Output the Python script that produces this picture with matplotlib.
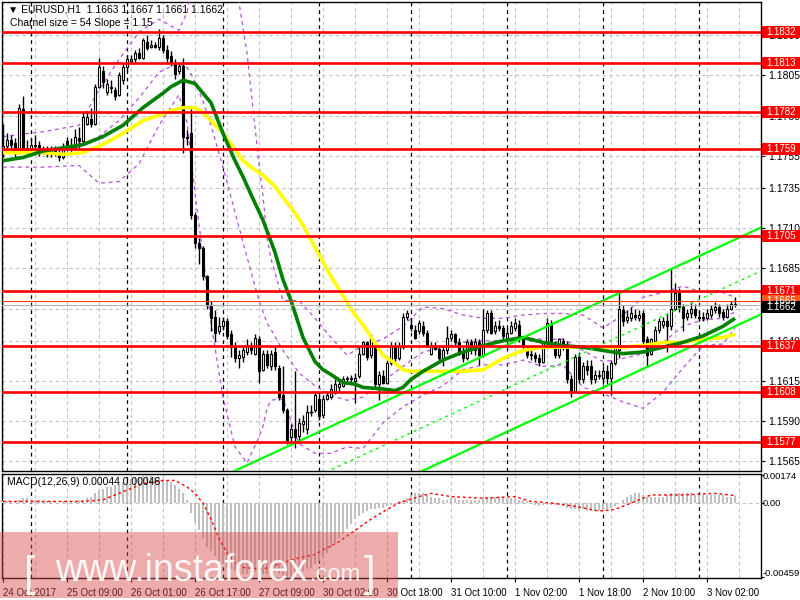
import matplotlib
matplotlib.use("Agg")
import matplotlib.pyplot as plt
from matplotlib.patches import Rectangle
from matplotlib.transforms import blended_transform_factory

# EURUSD H1, 24 Oct 17:00 .. 3 Nov 09:00 (bar index = position on chart)
opens = [1.1757,1.1761,1.1765,1.1763,1.1757,1.1784,1.1759,1.1759,1.1762,1.1762,
         1.1757,1.1759,1.1756,1.1759,1.1757,1.1754,1.1764,1.1760,1.1760,1.1766,
         1.1764,1.1775,1.1778,1.1775,1.1798,1.1808,1.1795,1.1798,1.1796,1.1793,
         1.1802,1.1810,1.1814,1.1815,1.1819,1.1816,1.1826,1.1823,1.1824,1.1823,
         1.1828,1.1821,1.1817,1.1812,1.1808,1.1811,1.1767,1.1769,1.1718,1.1701,
         1.1698,1.1680,1.1662,1.1655,1.1646,1.1649,1.1652,1.1644,1.1636,1.1629,
         1.1630,1.1633,1.1637,1.1632,1.1641,1.1622,1.1632,1.1624,1.1633,1.1623,
         1.1606,1.1597,1.1580,1.1585,1.1581,1.1588,1.1585,1.1596,1.1597,1.1604,
         1.1594,1.1604,1.1605,1.1609,1.1611,1.1612,1.1616,1.1616,1.1615,1.1618,
         1.1632,1.1639,1.1631,1.1638,1.1613,1.1618,1.1614,1.1626,1.1637,1.1629,
         1.1636,1.1655,1.1650,1.1647,1.1646,1.1649,1.1645,1.1632,1.1636,1.1635,
         1.1629,1.1634,1.1642,1.1644,1.1639,1.1633,1.1629,1.1639,1.1634,1.1639,
         1.1631,1.1647,1.1657,1.1646,1.1649,1.1648,1.1642,1.1645,1.1648,1.1650,
         1.1641,1.1636,1.1631,1.1631,1.1629,1.1627,1.1639,1.1650,1.1639,1.1631,
         1.1640,1.1637,1.1616,1.1609,1.1630,1.1616,1.1624,1.1624,1.1616,1.1619,
         1.1617,1.1621,1.1617,1.1626,1.1634,1.1659,1.1653,1.1654,1.1656,1.1654,
         1.1657,1.1641,1.1632,1.1640,1.1647,1.1650,1.1652,1.1649,1.1660,1.1670,
         1.1661,1.1655,1.1657,1.1660,1.1655,1.1655,1.1654,1.1656,1.1659,1.1661,
         1.1658,1.1655,1.1660,1.1663]
highs = [1.1775,1.1769,1.1768,1.1766,1.1787,1.1792,1.1765,1.1766,1.1768,1.1764,
         1.1761,1.1761,1.1761,1.1761,1.1759,1.1763,1.1767,1.1766,1.1772,1.1773,
         1.1782,1.1782,1.1785,1.1800,1.1816,1.1811,1.1803,1.1802,1.1798,1.1807,
         1.1812,1.1818,1.1818,1.1821,1.1822,1.1828,1.1830,1.1827,1.1826,1.1834,
         1.1830,1.1824,1.1820,1.1815,1.1813,1.1816,1.1771,1.1785,1.1720,1.1704,
         1.1699,1.1681,1.1665,1.1659,1.1655,1.1655,1.1654,1.1647,1.1639,1.1634,
         1.1637,1.1641,1.1639,1.1644,1.1643,1.1634,1.1634,1.1634,1.1637,1.1625,
         1.1624,1.1598,1.1588,1.1621,1.1592,1.1594,1.1600,1.1600,1.1608,1.1606,
         1.1606,1.1609,1.1613,1.1616,1.1616,1.1618,1.1618,1.1619,1.1620,1.1636,
         1.1640,1.1640,1.1644,1.1640,1.1621,1.1622,1.1628,1.1639,1.1639,1.1639,
         1.1657,1.1659,1.1654,1.1650,1.1653,1.1652,1.1647,1.1639,1.1639,1.1637,
         1.1637,1.1649,1.1647,1.1645,1.1642,1.1636,1.1641,1.1641,1.1642,1.1641,
         1.1660,1.1659,1.1659,1.1652,1.1653,1.1650,1.1648,1.1652,1.1654,1.1653,
         1.1642,1.1637,1.1634,1.1633,1.1632,1.1640,1.1654,1.1653,1.1640,1.1642,
         1.1642,1.1640,1.1619,1.1632,1.1633,1.1627,1.1628,1.1628,1.1622,1.1622,
         1.1624,1.1625,1.1628,1.1637,1.1670,1.1662,1.1659,1.1661,1.1660,1.1659,
         1.1659,1.1643,1.1642,1.1649,1.1654,1.1655,1.1657,1.1685,1.1676,1.1673,
         1.1663,1.1660,1.1664,1.1663,1.1659,1.1658,1.1660,1.1662,1.1664,1.1663,
         1.1660,1.1663,1.1665,1.1667]
lows = [1.1754,1.1759,1.1760,1.1754,1.1756,1.1757,1.1757,1.1757,1.1757,1.1755,
        1.1756,1.1754,1.1754,1.1755,1.1752,1.1753,1.1758,1.1757,1.1759,1.1760,
        1.1763,1.1774,1.1773,1.1774,1.1797,1.1797,1.1793,1.1794,1.1790,1.1792,
        1.1800,1.1808,1.1813,1.1813,1.1815,1.1815,1.1821,1.1822,1.1822,1.1821,
        1.1819,1.1813,1.1811,1.1803,1.1806,1.1757,1.1762,1.1716,1.1698,1.1688,
        1.1678,1.1660,1.1646,1.1639,1.1644,1.1647,1.1641,1.1630,1.1627,1.1623,
        1.1627,1.1631,1.1632,1.1631,1.1614,1.1621,1.1623,1.1622,1.1622,1.1603,
        1.1595,1.1576,1.1577,1.1573,1.1578,1.1583,1.1582,1.1593,1.1596,1.1591,
        1.1592,1.1603,1.1604,1.1607,1.1608,1.1611,1.1613,1.1614,1.1601,1.1617,
        1.1631,1.1628,1.1629,1.1611,1.1603,1.1613,1.1613,1.1625,1.1627,1.1628,
        1.1635,1.1653,1.1646,1.1641,1.1644,1.1643,1.1636,1.1631,1.1634,1.1627,
        1.1624,1.1632,1.1640,1.1637,1.1631,1.1627,1.1628,1.1632,1.1631,1.1625,
        1.1630,1.1645,1.1644,1.1644,1.1646,1.1641,1.1640,1.1644,1.1646,1.1639,
        1.1634,1.1629,1.1628,1.1627,1.1624,1.1626,1.1637,1.1637,1.1629,1.1629,
        1.1634,1.1614,1.1605,1.1608,1.1614,1.1614,1.1619,1.1613,1.1614,1.1616,
        1.1613,1.1613,1.1606,1.1625,1.1629,1.1649,1.1651,1.1652,1.1653,1.1652,
        1.1638,1.1624,1.1631,1.1638,1.1645,1.1648,1.1633,1.1647,1.1659,1.1658,
        1.1646,1.1653,1.1654,1.1654,1.1652,1.1652,1.1653,1.1654,1.1657,1.1655,
        1.1653,1.1654,1.1659,1.1661]
closes = [1.1761,1.1765,1.1762,1.1757,1.1785,1.1759,1.1760,1.1762,1.1761,1.1757,
          1.1759,1.1756,1.1759,1.1757,1.1754,1.1761,1.1760,1.1761,1.1767,1.1764,
          1.1779,1.1779,1.1775,1.1798,1.1810,1.1801,1.1800,1.1797,1.1792,1.1805,
          1.1810,1.1815,1.1815,1.1819,1.1816,1.1827,1.1822,1.1824,1.1823,1.1828,
          1.1821,1.1816,1.1813,1.1806,1.1811,1.1767,1.1766,1.1718,1.1701,1.1698,
          1.1680,1.1662,1.1654,1.1645,1.1649,1.1652,1.1643,1.1636,1.1629,1.1631,
          1.1634,1.1637,1.1634,1.1642,1.1621,1.1632,1.1625,1.1632,1.1624,1.1605,
          1.1597,1.1578,1.1585,1.1580,1.1589,1.1590,1.1596,1.1596,1.1606,1.1593,
          1.1604,1.1606,1.1610,1.1613,1.1613,1.1616,1.1617,1.1617,1.1617,1.1632,
          1.1639,1.1630,1.1642,1.1613,1.1619,1.1614,1.1626,1.1637,1.1629,1.1637,
          1.1655,1.1657,1.1648,1.1642,1.1651,1.1645,1.1637,1.1637,1.1635,1.1629,
          1.1634,1.1642,1.1644,1.1639,1.1632,1.1629,1.1639,1.1634,1.1639,1.1631,
          1.1647,1.1657,1.1645,1.1649,1.1648,1.1643,1.1645,1.1649,1.1651,1.1641,
          1.1636,1.1631,1.1632,1.1629,1.1627,1.1639,1.1651,1.1639,1.1631,1.1641,
          1.1636,1.1616,1.1609,1.1630,1.1616,1.1624,1.1622,1.1616,1.1619,1.1618,
          1.1621,1.1617,1.1626,1.1636,1.1660,1.1652,1.1655,1.1657,1.1655,1.1656,
          1.1640,1.1631,1.1641,1.1647,1.1652,1.1652,1.1649,1.1660,1.1670,1.1661,
          1.1654,1.1657,1.1660,1.1656,1.1654,1.1654,1.1657,1.1660,1.1661,1.1657,
          1.1655,1.1660,1.1663,1.1662]

# moving averages
ma_idx = [0, 5, 10, 15, 20, 25, 30, 35, 40, 42, 45, 48, 50, 52, 55, 58, 60, 62, 65,
          68, 70, 72, 75, 78, 80, 82, 85, 88, 90, 95, 98, 100, 102, 105, 110, 115,
          120, 125, 130, 135, 140, 145, 150, 155, 160, 165, 170, 175, 180, 183]
ma_green = [1.1752, 1.1754, 1.1758, 1.1760, 1.1762, 1.1767, 1.1774, 1.1785, 1.1794,
            1.1798, 1.1802, 1.1800, 1.1794, 1.1788, 1.1769, 1.1752, 1.1742, 1.1731,
            1.1715, 1.1695, 1.1678, 1.1665, 1.1642, 1.1627, 1.1622, 1.1619, 1.1614,
            1.1613, 1.1611, 1.1610, 1.1609, 1.1611, 1.1616, 1.1621, 1.1628, 1.1633,
            1.1637, 1.1640, 1.1642, 1.1639, 1.1637, 1.1636, 1.1634, 1.1632, 1.1633,
            1.1636, 1.1639, 1.1643, 1.1649, 1.1654]
ma_yellow = [1.1757, 1.1757, 1.1757, 1.1756, 1.1757, 1.1762, 1.1769, 1.1777, 1.1781,
             1.1783, 1.1785, 1.1785, 1.1782, 1.1777, 1.1769, 1.1759, 1.1752, 1.1748,
             1.1743, 1.1736, 1.1729, 1.1723, 1.1712, 1.1698, 1.1689, 1.1680, 1.1668,
             1.1656, 1.1650, 1.1631, 1.1626, 1.1622, 1.1621, 1.1621, 1.1621, 1.1621,
             1.1622, 1.1629, 1.1634, 1.1636, 1.1636, 1.1636, 1.1636, 1.1636, 1.1637,
             1.1639, 1.1639, 1.1641, 1.1642, 1.1644]

# Bollinger bands (20, 2): middle, upper, lower
bb_idx = [0, 10, 19, 24, 29, 34, 39, 44, 45, 46, 47, 48, 50, 52, 55, 58, 61, 64, 65,
          66, 67, 70, 74, 78, 82, 86, 90, 95, 100, 105, 110, 115, 120, 125, 130, 135,
          140, 145, 150, 155, 160, 165, 170, 175, 180, 183]
bb_mid = [1.1758, 1.1759, 1.1761, 1.1767, 1.1777, 1.1791, 1.1807, 1.1813, 1.1811, 1.1810,
          1.1806, 1.1801, 1.1789, 1.1774, 1.1748, 1.1720, 1.1692, 1.1665, 1.1658, 1.1651,
          1.1647, 1.1634, 1.1620, 1.1612, 1.1606, 1.1603, 1.1605, 1.1615, 1.1624, 1.1633,
          1.1636, 1.1639, 1.1640, 1.1640, 1.1642, 1.1641, 1.1641, 1.1634, 1.1627, 1.1629,
          1.1632, 1.1639, 1.1649, 1.1653, 1.1654, 1.1658]
bb_up = [1.1767, 1.1770, 1.1774, 1.1796, 1.1815, 1.1832, 1.1840, 1.1833, 1.1839, 1.1844,
         1.1858, 1.1871, 1.1886, 1.1896, 1.1890, 1.1866, 1.1819, 1.1750, 1.1730, 1.1704,
         1.1691, 1.1665, 1.1665, 1.1654, 1.1642, 1.1631, 1.1637, 1.1641, 1.1649, 1.1661,
         1.1660, 1.1656, 1.1654, 1.1654, 1.1656, 1.1657, 1.1657, 1.1656, 1.1648, 1.1656,
         1.1667, 1.1670, 1.1674, 1.1670, 1.1670, 1.1667]
bb_dn = [1.1748, 1.1748, 1.1749, 1.1738, 1.1739, 1.1750, 1.1774, 1.1793, 1.1783, 1.1776,
         1.1753, 1.1732, 1.1693, 1.1651, 1.1605, 1.1574, 1.1564, 1.1580, 1.1587, 1.1598,
         1.1603, 1.1604, 1.1576, 1.1570, 1.1570, 1.1574, 1.1573, 1.1589, 1.1599, 1.1606,
         1.1612, 1.1622, 1.1625, 1.1625, 1.1628, 1.1624, 1.1625, 1.1611, 1.1607, 1.1602,
         1.1598, 1.1608, 1.1623, 1.1637, 1.1638, 1.1648]

macd_hist = [0.0001,0.0001,0.0001,0.0001,0.0002,0.0003,0.0003,0.0002,0.0002,0.0002,
             0.0001,0.0001,0.0001,0.0001,0.0000,0.0001,0.0001,0.0001,0.0001,0.0002,
             0.0002,0.0003,0.0004,0.0006,0.0008,0.0009,0.0010,0.0010,0.0011,0.0012,
             0.0013,0.0014,0.0015,0.0016,0.0016,0.0017,0.0017,0.0017,0.0016,0.0016,
             0.0015,0.0014,0.0013,0.0011,0.0009,0.0006,0.0002,-0.0006,-0.0012,-0.0017,
             -0.0022,-0.0027,-0.0030,-0.0033,-0.0036,-0.0038,-0.0040,-0.0041,-0.0042,-0.0043,
             -0.0044,-0.0044,-0.0044,-0.0043,-0.0044,-0.0044,-0.0044,-0.0043,-0.0043,-0.0044,
             -0.0045,-0.0046,-0.0045,-0.0044,-0.0043,-0.0042,-0.0041,-0.0040,-0.0038,-0.0036,
             -0.0034,-0.0031,-0.0028,-0.0025,-0.0022,-0.0019,-0.0016,-0.0013,-0.0010,-0.0008,
             -0.0006,-0.0005,-0.0004,-0.0004,-0.0003,-0.0003,-0.0002,-0.0001,-0.0001,0.0001,
             0.0002,0.0003,0.0005,0.0006,0.0006,0.0006,0.0005,0.0004,0.0003,0.0003,
             0.0002,0.0002,0.0003,0.0003,0.0002,0.0002,0.0002,0.0002,0.0002,0.0002,
             0.0003,0.0004,0.0004,0.0004,0.0004,0.0004,0.0003,0.0003,0.0003,0.0002,
             0.0002,0.0001,0.0000,-0.0001,-0.0002,-0.0001,0.0000,-0.0001,-0.0001,-0.0001,
             -0.0002,-0.0003,-0.0004,-0.0004,-0.0005,-0.0004,-0.0005,-0.0005,-0.0005,-0.0005,
             -0.0005,-0.0004,-0.0003,-0.0002,0.0000,0.0002,0.0004,0.0005,0.0006,0.0006,
             0.0005,0.0004,0.0004,0.0004,0.0004,0.0004,0.0005,0.0006,0.0006,0.0006,
             0.0006,0.0006,0.0006,0.0005,0.0005,0.0005,0.0005,0.0005,0.0005,0.0005,
             0.0005,0.0004,0.0004,0.00044]
sig_idx = [0, 10, 20, 25, 30, 35, 40, 43, 46, 48, 50, 52, 54, 56, 58, 60, 65, 70, 74, 78,
           80, 84, 88, 92, 96, 99, 104, 107, 112, 120, 128, 132, 137, 143, 149, 153, 157,
           162, 170, 178, 183]
sig_val = [0.0001, 0.0001, 0.0001, 0.0002, 0.0007, 0.0012, 0.0014, 0.0014, 0.0010, 0.0006,
           0.0000, -0.0010, -0.0022, -0.0031, -0.0037, -0.0040, -0.0041, -0.0037, -0.0034,
           -0.0032, -0.0029, -0.0024, -0.0017, -0.0010, -0.0004, 0.0000, 0.0004, 0.0006,
           0.0004, 0.0003, 0.0004, 0.0001, 0.0000, -0.0002, -0.0005, -0.0004, 0.0000,
           0.0005, 0.0005, 0.0006, 0.00046]

levels = [1.1832, 1.1813, 1.1782, 1.1759, 1.1705, 1.1671, 1.1637, 1.1608, 1.1577]
price_ticks = [1.1830, 1.1805, 1.1780, 1.1755, 1.1735, 1.1710, 1.1685, 1.1660,
               1.1640, 1.1615, 1.1590, 1.1565]
macd_ticks = [0.00174, 0.0, -0.00459]
macd_tick_labels = ['0.00174', '0.00', '-0.00459']
time_pos = [0, 16, 32, 48, 64, 80, 96, 112, 128, 144, 160, 176]
time_labels = ['24 Oct 2017', '25 Oct 09:00', '26 Oct 01:00', '26 Oct 17:00',
               '27 Oct 09:00', '30 Oct 02:00', '30 Oct 18:00', '31 Oct 10:00',
               '1 Nov 02:00', '1 Nov 18:00', '2 Nov 10:00', '3 Nov 02:00']
day_breaks = [7, 31, 55, 79, 102, 126, 150, 174]
channel_x = [57, 190]
channel_top = [1.1558, 1.1711]
channel_size = 0.0054
ask, bid = 1.1665, 1.1662

W, H = 800, 600
plt.rcParams['font.family'] = ['Liberation Sans', 'DejaVu Sans']

fig = plt.figure(figsize=(8, 6), dpi=100)
fig.patch.set_facecolor('white')
ax = fig.add_axes([2 / W, 1 - 471 / H, 759 / W, 469 / H])
mx = fig.add_axes([2 / W, 1 - 578 / H, 759 / W, 104 / H])
ymin, ymax = 1.15590, 1.18507

for a in (ax, mx):
    a.set_xlim(-0.25, 189.5)
    for s in a.spines.values():
        s.set_color('black')
        s.set_linewidth(1)
    for g in range(0, 190, 8):
        a.axvline(g, color='#c0c0c0', lw=0.8, ls=(0, (3, 3)), zorder=1)
    for d in day_breaks:
        a.axvline(d, color='black', lw=0.9, ls=(0, (3, 3)), zorder=2)

# candles
n = len(closes)
xs = list(range(n))
ax.vlines(xs, lows, highs, color='black', lw=1, zorder=4)
for i in xs:
    o, c = opens[i], closes[i]
    lo, hi = min(o, c), max(o, c)
    if hi - lo < 0.00002:
        ax.hlines(o, i - 0.38, i + 0.38, color='black', lw=1, zorder=5)
    else:
        ax.add_patch(Rectangle((i - 0.32, lo), 0.64, hi - lo,
                               fc='white' if c > o else 'black',
                               ec='black', lw=0.8, zorder=5))

for p in price_ticks:
    ax.axhline(p, color='#c0c0c0', lw=0.8, ls=(0, (3, 3)), zorder=1)

# Bollinger bands
for band in (bb_up, bb_mid, bb_dn):
    ax.plot(bb_idx, band, color='#b84fdc', lw=0.9, ls=(0, (3, 3)), zorder=3)

ax.plot(ma_idx, ma_yellow, color='#ffff00', lw=2.6, zorder=6, solid_capstyle='butt')
ax.plot(ma_idx, ma_green, color='#008000', lw=2.6, zorder=6, solid_capstyle='butt')

# regression channel
ax.plot(channel_x, channel_top, color='#00ff00', lw=1.6, zorder=7)
ax.plot(channel_x, [p - channel_size / 2 for p in channel_top], color='#00ff00',
        lw=1, ls=(0, (2, 3)), zorder=7)
ax.plot(channel_x, [p - channel_size for p in channel_top], color='#00ff00', lw=1.6, zorder=7)

for lv in levels:
    ax.axhline(lv, color='#ff0000', lw=1.9, zorder=8)
ax.axhline(ask, color='#ff4000', lw=0.8, zorder=8)
ax.axhline(bid, color='#b0b0b0', lw=0.8, zorder=8)

ax.set_ylim(ymin, ymax)
ax.set_xticks([])
ax.yaxis.tick_right()
ax.set_yticks(price_ticks)
ax.set_yticklabels([f'{p:.4f}' for p in price_ticks])
ax.tick_params(axis='y', length=3, labelsize=7.5, pad=2, colors='black')

# right-hand price boxes
tr = blended_transform_factory(fig.transFigure, ax.transData)
box_h = 12 / 469 * (ymax - ymin)
boxes = [(lv, '#ff0000') for lv in levels] + [(ask, '#ff5a1e'), (bid, 'black')]
for val, fc in boxes:
    yv = val - box_h * 0.15 if val == bid else val
    fig.add_artist(Rectangle((762 / W, yv - box_h / 2), 38 / W, box_h, transform=tr,
                             fc=fc, ec='none', zorder=10))
    fig.text(781 / W, yv, f'{val:.4f}', transform=tr, color='white', fontsize=7,
             ha='center', va='center', zorder=11)

# MACD panel
mx.bar(xs, macd_hist, width=0.7, color='#c0c0c0', zorder=3)
mx.plot(sig_idx, sig_val, color='#ff0000', lw=1, ls=(0, (2, 2)), zorder=4)
mx.axhline(0, color='#c0c0c0', lw=0.8, ls=(0, (3, 3)), zorder=1)
mx.set_ylim(-0.00465, 0.00180)
mx.yaxis.tick_right()
mx.set_yticks(macd_ticks)
mx.set_yticklabels([])
mx.tick_params(axis='y', length=2)
mtr = blended_transform_factory(fig.transFigure, mx.transData)
for v, lab in zip(macd_ticks, macd_tick_labels):
    yy = v + 0.00022 if v < 0 else (v - 0.0001 if v > 0 else v)
    fig.text(763 / W, yy, lab, transform=mtr, fontsize=6.8, ha='left', va='center')
mx.set_xticks(time_pos)
mx.set_xticklabels(time_labels, ha='left')
mx.tick_params(axis='x', length=3, labelsize=7, pad=4)

fig.text(8 / W, 1 - 10 / H, '\u25bc EURUSD,H1  1.1663 1.1667 1.1661 1.1662',
         fontsize=7.5, va='center')
fig.text(10 / W, 1 - 23 / H, 'Charnel size = 54 Slope = 1.15', fontsize=7.5, va='center')
fig.text(7 / W, 1 - 482 / H, 'MACD(12,26,9) 0.00044 0.00046', fontsize=7.5, va='center')

# watermark
fig.add_artist(Rectangle((0, 2 / H), 398 / W, 66 / H, transform=fig.transFigure,
                         fc='#d84848', ec='none', alpha=0.45, zorder=20))
wm = dict(color='white', va='baseline', zorder=21, alpha=0.9)
fig.text(24 / W, 1 - 586 / H, '[', fontsize=30, **wm)
fig.text(55 / W, 1 - 581 / H, 'www.instaforex', fontsize=27, **wm)
fig.text(310 / W, 1 - 581 / H, '.com', fontsize=17, **wm)
fig.text(364 / W, 1 - 586 / H, ']', fontsize=30, **wm)

fig.savefig('out.png', dpi=100)
